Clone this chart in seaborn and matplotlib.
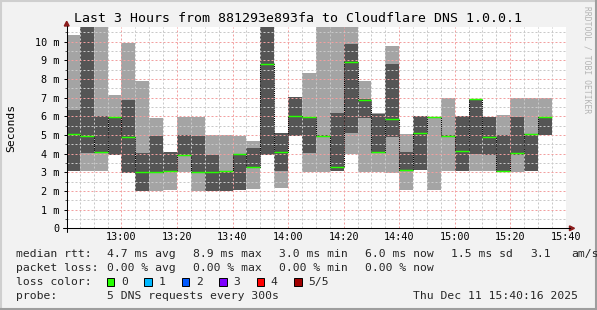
import matplotlib
matplotlib.use("Agg")
import matplotlib.pyplot as plt
import numpy as np
import pandas as pd
import seaborn as sns
from matplotlib.lines import Line2D
from matplotlib.patches import Rectangle, Polygon
from matplotlib.ticker import MultipleLocator, FuncFormatter

# ---------------- data ----------------
interval_start = ["12:40", "12:45", "12:50", "12:55", "13:00", "13:05", "13:10",
                  "13:15", "13:20", "13:25", "13:30", "13:35", "13:40", "13:45",
                  "13:50", "13:55", "14:00", "14:05", "14:10", "14:15", "14:20",
                  "14:25", "14:30", "14:35", "14:40", "14:45", "14:50", "14:55",
                  "15:00", "15:05", "15:10", "15:15", "15:20", "15:25", "15:30"]
# five sorted DNS round-trip times per 5-minute interval (ms)
ping1 = [3.07, 3.07, 3.07, 3.93, 2.98, 2.02, 2.02, 2.05, 3.00, 2.02, 2.02, 2.02,
         2.05, 2.10, 3.93, 2.18, 4.94, 3.03, 3.03, 3.09, 3.96, 3.04, 3.04, 2.98,
         2.05, 3.12, 2.05, 3.09, 3.09, 3.09, 3.09, 3.07, 3.04, 3.09, 5.00]
ping2 = [3.07, 4.02, 4.02, 3.93, 2.98, 2.02, 3.00, 3.04, 3.93, 3.00, 2.02, 2.02,
         2.05, 3.25, 3.93, 3.07, 4.94, 4.02, 4.90, 3.09, 5.09, 5.93, 4.09, 4.91,
         3.07, 3.12, 5.98, 4.93, 3.09, 3.98, 3.93, 3.07, 3.93, 3.09, 5.00]
median_rtt = [5.03, 4.96, 4.10, 5.98, 4.91, 3.03, 3.04, 3.09, 3.95, 3.04, 3.04, 3.09,
              3.96, 3.30, 8.82, 4.10, 6.02, 5.98, 4.93, 3.30, 8.93, 6.88, 4.11, 5.88,
              3.12, 5.09, 5.98, 4.96, 4.16, 6.93, 4.91, 3.07, 4.05, 5.05, 5.98]
ping4 = [6.34, 12.00, 6.02, 5.98, 6.87, 4.05, 4.96, 4.07, 5.00, 4.96, 3.93, 3.09,
         3.96, 4.28, 12.00, 5.12, 7.02, 5.98, 5.02, 6.20, 9.88, 6.91, 6.10, 8.80,
         4.10, 6.01, 5.98, 5.00, 6.01, 6.93, 5.98, 5.00, 5.98, 5.05, 5.98]
ping5 = [10.36, 12.50, 12.00, 7.14, 9.95, 7.89, 5.93, 4.07, 5.98, 5.95, 5.00, 5.00,
         4.96, 4.69, 12.50, 5.12, 7.02, 8.34, 12.00, 12.00, 12.00, 7.89, 6.16, 9.77,
         5.05, 6.01, 5.98, 7.00, 6.01, 6.93, 5.98, 6.07, 6.98, 6.98, 6.98]

x_tick_labels = ["13:00", "13:20", "13:40", "14:00", "14:20", "14:40", "15:00", "15:20", "15:40"]
title = "Last 3 Hours from 881293e893fa to Cloudflare DNS 1.0.0.1"
rtt_stats = ["4.7 ms avg", "8.9 ms max", "3.0 ms min", "6.0 ms now", "1.5 ms sd", "3.1", "am/s"]
loss_stats = ["0.00 % avg", "0.00 % max", "0.00 % min", "0.00 % now"]
loss_labels = ["0", "1", "2", "3", "4", "5/5"]
loss_colors = ["#26ff00", "#00b8ff", "#0059ff", "#7e00ff", "#ff0000", "#a10000"]
probe_text = "5 DNS requests every 300s"
stamp_text = "Thu Dec 11 15:40:16 2025"

# ---------------- styling ----------------
sns.set_theme(style="white")
plt.rcParams['font.family'] = ['DejaVu Sans Mono', 'DejaVu Sans']

BG = "#f2f2f2"
LIGHT = "#a4a4a4"
DARK = "#555555"
MONO = 'DejaVu Sans Mono'

W, H = 597, 310
fig = plt.figure(figsize=(W / 100, H / 100), dpi=100, facecolor=BG)

def fx(x):
    return x / W

def fy(y):
    return 1 - y / H

L, R, T, B = 66.7, 566.5, 27.3, 228.3
ax = fig.add_axes([fx(L), fy(B), fx(R) - fx(L), fy(T) - fy(B)])
ax.set_facecolor("white")

t0 = pd.Timestamp("2025-12-11 12:40")
df = pd.DataFrame({
    "start": [(pd.Timestamp("2025-12-11 " + s) - t0).total_seconds() / 60 for s in interval_start],
    "p1": ping1, "p2": ping2, "med": median_rtt, "p4": ping4, "p5": ping5,
})
step = 5.0

# smoke
ax.bar(df["start"], df["p5"] - df["p1"], bottom=df["p1"], width=step, align="edge",
       color=LIGHT, linewidth=0, zorder=1)
ax.bar(df["start"], df["p4"] - df["p2"], bottom=df["p2"], width=step, align="edge",
       color=DARK, linewidth=0, zorder=1.1)

# median: dotted black step transitions + green horizontal segments
step_df = pd.DataFrame({"x": list(df["start"]) + [df["start"].iloc[-1] + step],
                        "y": list(df["med"]) + [df["med"].iloc[-1]]})
sns.lineplot(data=step_df, x="x", y="y", ax=ax, drawstyle="steps-post", color="black",
             linewidth=0.75, linestyle=(0, (1, 1)), zorder=3, legend=False)
ax.hlines(df["med"], df["start"], df["start"] + step, colors=loss_colors[0],
          linewidth=1.05, zorder=4)

# axes ranges
ax.set_xlim(0.27, 180.27)
ax.set_ylim(0, 10.77)
ax.set_xlabel("")
ax.set_ylabel("")

ax.xaxis.set_major_locator(MultipleLocator(20))
ax.xaxis.set_minor_locator(MultipleLocator(5))
ax.yaxis.set_major_locator(MultipleLocator(1))
ax.yaxis.set_minor_locator(MultipleLocator(0.5))

ax.xaxis.set_major_formatter(FuncFormatter(
    lambda v, p: x_tick_labels[int(round(v / 20)) - 1] if 1 <= int(round(v / 20)) <= len(x_tick_labels) else ""))
ax.yaxis.set_major_formatter(FuncFormatter(lambda v, p: "0" if abs(v) < 1e-6 else f"{int(round(v))} m"))

ax.set_axisbelow(False)
ax.grid(which="minor", color="#c9c9c9", linestyle=(0, (2, 2)), linewidth=0.72)
ax.grid(which="major", color="#f2a0a0", linestyle=(0, (2, 2)), linewidth=0.72)

ax.tick_params(axis="x", which="both", length=0, pad=3.0, labelsize=7.3, labelcolor="black")
ax.tick_params(axis="y", which="major", length=2.2, width=0.7, color="black", pad=3.0,
               labelsize=7.3, labelcolor="black", left=True)
ax.tick_params(axis="y", which="minor", length=1.5, width=0.7, color="#555555", left=True)
for lab in ax.get_xticklabels() + ax.get_yticklabels():
    lab.set_family(MONO)

for s in ax.spines.values():
    s.set_visible(False)

# axis lines with arrows (rrdtool style)
fig.add_artist(Line2D([fx(L), fx(L)], [fy(231.5), fy(25.5)], color="black", lw=0.75))
fig.add_artist(Line2D([fx(62.5), fx(570)], [fy(B), fy(B)], color="black", lw=0.75))
fig.add_artist(Polygon([(fx(L), fy(21.3)), (fx(L - 2.4), fy(26.0)), (fx(L + 2.4), fy(26.0))],
                       closed=True, color="#8b1c1c", transform=fig.transFigure))
fig.add_artist(Polygon([(fx(574.5), fy(B)), (fx(569.5), fy(B - 2.4)), (fx(569.5), fy(B + 2.4))],
                       closed=True, color="#8b1c1c", transform=fig.transFigure))

# frame (3D shading)
fig.add_artist(Line2D([fx(0.5), fx(0.5)], [0, 1], color="#cfcfcf", lw=1.5))
fig.add_artist(Line2D([0, 1], [fy(0.5), fy(0.5)], color="#cfcfcf", lw=1.5))
fig.add_artist(Line2D([fx(W - 1), fx(W - 1)], [0, 1], color="#9e9e9e", lw=1.5))
fig.add_artist(Line2D([0, 1], [fy(H - 1), fy(H - 1)], color="#9e9e9e", lw=1.5))

# texts
fig.text(fx(73.5), fy(18.5), title, ha="left", va="center", fontsize=9.5, family=MONO, color="black")
fig.text(fx(11), fy(127.5), "Seconds", rotation=90, ha="center", va="center", fontsize=8.2,
         family=MONO, color="black")
fig.text(fx(587), fy(60), "RRDTOOL / TOBI OETIKER", rotation=270, ha="center", va="center",
         fontsize=5.8, family=MONO, color="#b4b4b4")

FS = 8.2
rows_y = [254.0, 268.3, 282.2, 296.3]
col_x = [107.3, 193.4, 279.0, 364.7, 451.0, 530.3, 571.0]
fig.text(fx(16), fy(rows_y[0]), "median rtt:", ha="left", va="center", fontsize=FS, family=MONO)
for s, xx in zip(rtt_stats, col_x):
    fig.text(fx(xx), fy(rows_y[0]), s, ha="left", va="center", fontsize=FS, family=MONO)
fig.text(fx(16), fy(rows_y[1]), "packet loss:", ha="left", va="center", fontsize=FS, family=MONO)
for s, xx in zip(loss_stats, col_x):
    fig.text(fx(xx), fy(rows_y[1]), s, ha="left", va="center", fontsize=FS, family=MONO)
fig.text(fx(16), fy(rows_y[2]), "loss color:", ha="left", va="center", fontsize=FS, family=MONO)
box_x = [106.5, 144.0, 181.5, 219.0, 256.5, 294.0]
bs = 7.6
for lbl, col, bx in zip(loss_labels, loss_colors, box_x):
    fig.add_artist(Rectangle((fx(bx), fy(rows_y[2] + bs / 2)), bs / W, bs / H,
                             facecolor=col, edgecolor="black", lw=0.7, transform=fig.transFigure))
    fig.text(fx(bx + 14.3), fy(rows_y[2]), lbl, ha="left", va="center", fontsize=FS, family=MONO)
fig.text(fx(16), fy(rows_y[3]), "probe:", ha="left", va="center", fontsize=FS, family=MONO)
fig.text(fx(107.3), fy(rows_y[3]), probe_text, ha="left", va="center", fontsize=FS, family=MONO)
fig.text(fx(413), fy(rows_y[3]), stamp_text, ha="left", va="center", fontsize=FS, family=MONO)

fig.savefig("out.png", dpi=100, facecolor=BG)
